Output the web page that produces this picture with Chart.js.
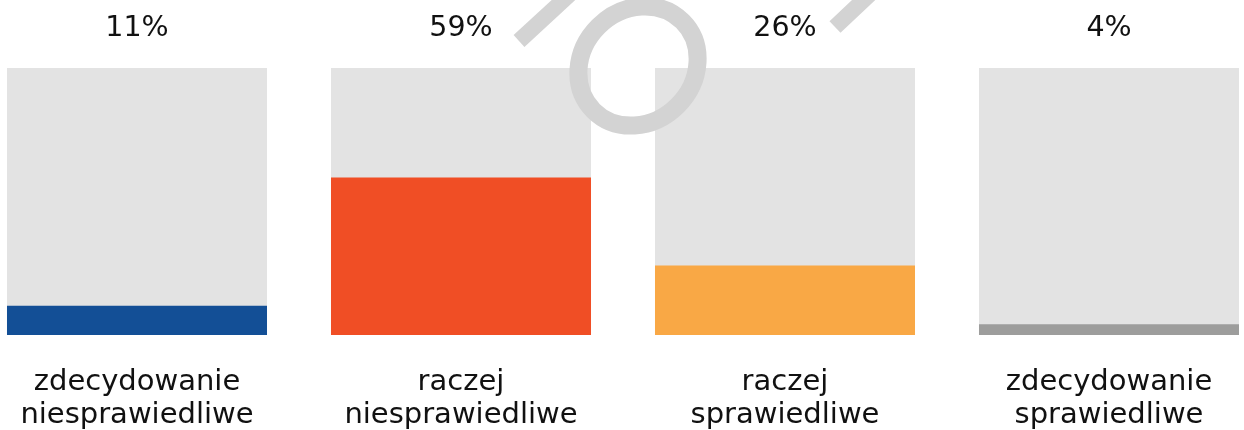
<!DOCTYPE html>
<html>
<head>
<meta charset="utf-8">
<script src="https://cdn.jsdelivr.net/npm/chart.js@4"></script>
<style>
  html, body { margin: 0; padding: 0; background: #fff; }
  #wrap { width: 1244px; height: 430px; position: relative; }
</style>
</head>
<body>
<div id="wrap"><canvas id="chart" width="1244" height="430"></canvas></div>
<script>
const categories = [
    ["zdecydowanie", "niesprawiedliwe"],
    ["raczej", "niesprawiedliwe"],
    ["raczej", "sprawiedliwe"],
    ["zdecydowanie", "sprawiedliwe"]
];
const values = [11, 59, 26, 4];
const totals = [100, 100, 100, 100];
const barColors = ["#134f96", "#f04e25", "#f9a845", "#9d9d9c"];

const FONT = "'DejaVu Sans', sans-serif";

// napisy nad i pod słupkami
const labelsPlugin = {
    id: "labels",
    afterDatasetsDraw(chart) {
        const ctx = chart.ctx;
        const meta = chart.getDatasetMeta(0);
        ctx.save();
        ctx.fillStyle = "#111";
        ctx.textAlign = "center";
        ctx.textBaseline = "alphabetic";
        meta.data.forEach((bar, i) => {
            ctx.font = "28.5px " + FONT;
            ctx.fillText(values[i] + "%", bar.x, 36);
            ctx.font = "29px " + FONT;
            categories[i].forEach((line, j) => {
                ctx.fillText(line, bar.x, 390 + j * 33);
            });
        });
        ctx.restore();
    }
};

// znak wodny
const watermarkPlugin = {
    id: "watermark",
    afterDatasetsDraw(chart) {
        const ctx = chart.ctx;
        ctx.save();
        ctx.strokeStyle = "#d3d3d3";
        ctx.lineWidth = 16;
        ctx.lineCap = "butt";
        ctx.beginPath();
        ctx.moveTo(519, 41);
        ctx.lineTo(570, -6);
        ctx.stroke();
        ctx.beginPath();
        ctx.moveTo(835, 27);
        ctx.lineTo(870, -6);
        ctx.stroke();
        ctx.lineWidth = 18;
        ctx.beginPath();
        ctx.ellipse(638, 66, 63, 56, -Math.PI / 4, 0, Math.PI * 2);
        ctx.stroke();
        ctx.restore();
    }
};

new Chart(document.getElementById("chart"), {
    type: "bar",
    data: {
        labels: categories,
        datasets: [
            {
                data: values,
                backgroundColor: barColors,
                grouped: false,
                clip: false,
                categoryPercentage: 1,
                barPercentage: 0.8025
            },
            {
                data: totals,
                backgroundColor: "#e3e3e3",
                grouped: false,
                clip: false,
                categoryPercentage: 1,
                barPercentage: 0.8025
            }
        ]
    },
    options: {
        responsive: false,
        animation: false,
        layout: { padding: { top: 68, bottom: 95, left: 137, right: 135 } },
        plugins: {
            legend: { display: false },
            tooltip: { enabled: false }
        },
        scales: {
            x: { display: false, offset: false },
            y: { display: false, min: 0, max: 100 }
        }
    },
    plugins: [labelsPlugin, watermarkPlugin]
});
</script>
</body>
</html>
